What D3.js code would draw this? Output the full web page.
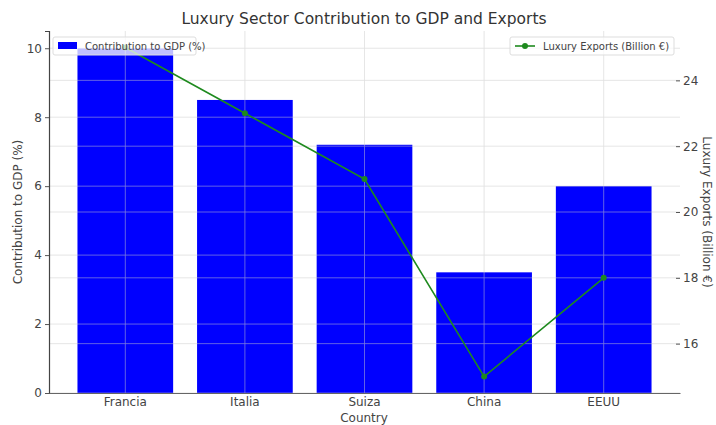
<!DOCTYPE html>
<html><head><meta charset="utf-8">
<script src="https://cdn.jsdelivr.net/npm/d3@7"></script>
<style>body{margin:0;background:#fff}svg{display:block}text{font-family:"DejaVu Sans",sans-serif}</style>
</head><body><svg id="c" width="716" height="425"></svg>
<script>
const categories = ["Francia","Italia","Suiza","China","EEUU"];
const gdpShare = [10, 8.5, 7.2, 3.5, 6.0];
const exportsBn = [25, 23, 21, 15, 18];
const leftTicks = [0,2,4,6,8,10];
const rightTicks = [16,18,20,22,24];

const svg = d3.select("#c");
const L = 49, R = 680, T = 31, B = 393;
const x = d3.scaleBand().domain(categories).range([L,R]).paddingInner(0.2).paddingOuter(0.238);
const y = d3.scaleLinear().domain([0,10.5]).range([B,T]);
const y2 = d3.scaleLinear().domain([14.5,25.5]).range([B,T]);
const cx = d => x(d) + x.bandwidth()/2;

// bars
svg.append("g").selectAll("rect").data(categories).join("rect")
  .attr("x", d=>x(d)).attr("width", x.bandwidth())
  .attr("y", (d,i)=>y(gdpShare[i])).attr("height",(d,i)=>B-y(gdpShare[i]))
  .attr("fill","#0000ff");

// grid
const g = svg.append("g").attr("stroke","#cccccc").attr("stroke-width",0.8).attr("opacity",0.6);
g.selectAll(".v").data(categories).join("line").attr("x1",cx).attr("x2",cx).attr("y1",T).attr("y2",B);
g.selectAll(".h").data(leftTicks).join("line").attr("x1",L).attr("x2",R).attr("y1",d=>y(d)).attr("y2",d=>y(d));
g.selectAll(".h2").data(rightTicks).join("line").attr("x1",L).attr("x2",R).attr("y1",d=>y2(d)).attr("y2",d=>y2(d));

// axes
const ax = svg.append("g").attr("transform",`translate(${L},0)`)
  .call(d3.axisLeft(y).tickValues(leftTicks).tickSize(4).tickPadding(3));
ax.select(".domain").attr("stroke","#444").attr("stroke-width",1.2);
const bx = svg.append("g").attr("transform",`translate(0,${B})`)
  .call(d3.axisBottom(x).tickSize(0).tickPadding(4));
bx.select(".domain").attr("stroke","#666");
const rx = svg.append("g").attr("transform",`translate(${R-4},0)`)
  .call(d3.axisRight(y2).tickValues(rightTicks).tickSize(4).tickPadding(3));
rx.select(".domain").remove();
[ax,bx,rx].forEach(a=>{a.selectAll("text").attr("font-size",12).attr("fill","#444").attr("font-family","DejaVu Sans");
  a.selectAll(".tick line").attr("stroke","#555");});

// line
const line = d3.line().x((d,i)=>cx(categories[i])).y(d=>y2(d));
svg.append("path").datum(exportsBn).attr("d",line).attr("fill","none").attr("stroke","#1e8a1e").attr("stroke-width",1.6);
svg.append("g").selectAll("circle").data(exportsBn).join("circle")
  .attr("cx",(d,i)=>cx(categories[i])).attr("cy",d=>y2(d)).attr("r",3).attr("fill","#1e8a1e");

// titles
svg.append("text").attr("x",364).attr("y",24).attr("text-anchor","middle").attr("font-size",15.5).attr("fill","#333")
  .text("Luxury Sector Contribution to GDP and Exports");
svg.append("text").attr("x",364).attr("y",422).attr("text-anchor","middle").attr("font-size",12).attr("fill","#444").text("Country");
svg.append("text").attr("transform",`translate(22,${(T+B)/2}) rotate(-90)`).attr("text-anchor","middle").attr("font-size",12).attr("fill","#444")
  .text("Contribution to GDP (%)");
svg.append("text").attr("transform",`translate(703,${(T+B)/2}) rotate(90)`).attr("text-anchor","middle").attr("font-size",12).attr("fill","#444")
  .text("Luxury Exports (Billion €)");

// legends
const lg1 = svg.append("g");
lg1.append("rect").attr("x",53).attr("y",37).attr("width",143).attr("height",18).attr("rx",2)
  .attr("fill","#fff").attr("fill-opacity",0.75).attr("stroke","#ddd");
lg1.append("rect").attr("x",58).attr("y",42).attr("width",19).attr("height",7).attr("fill","#0000ff");
lg1.append("text").attr("x",85).attr("y",49.5).attr("font-size",10).attr("fill","#444").text("Contribution to GDP (%)");
const lg2 = svg.append("g");
lg2.append("rect").attr("x",510).attr("y",37).attr("width",164).attr("height",18).attr("rx",2)
  .attr("fill","#fff").attr("fill-opacity",0.75).attr("stroke","#ddd");
lg2.append("line").attr("x1",515).attr("x2",535).attr("y1",46).attr("y2",46).attr("stroke","#1e8a1e").attr("stroke-width",1.6);
lg2.append("circle").attr("cx",525).attr("cy",46).attr("r",3).attr("fill","#1e8a1e");
lg2.append("text").attr("x",543).attr("y",49.5).attr("font-size",10).attr("fill","#444").text("Luxury Exports (Billion €)");
</script></body></html>
